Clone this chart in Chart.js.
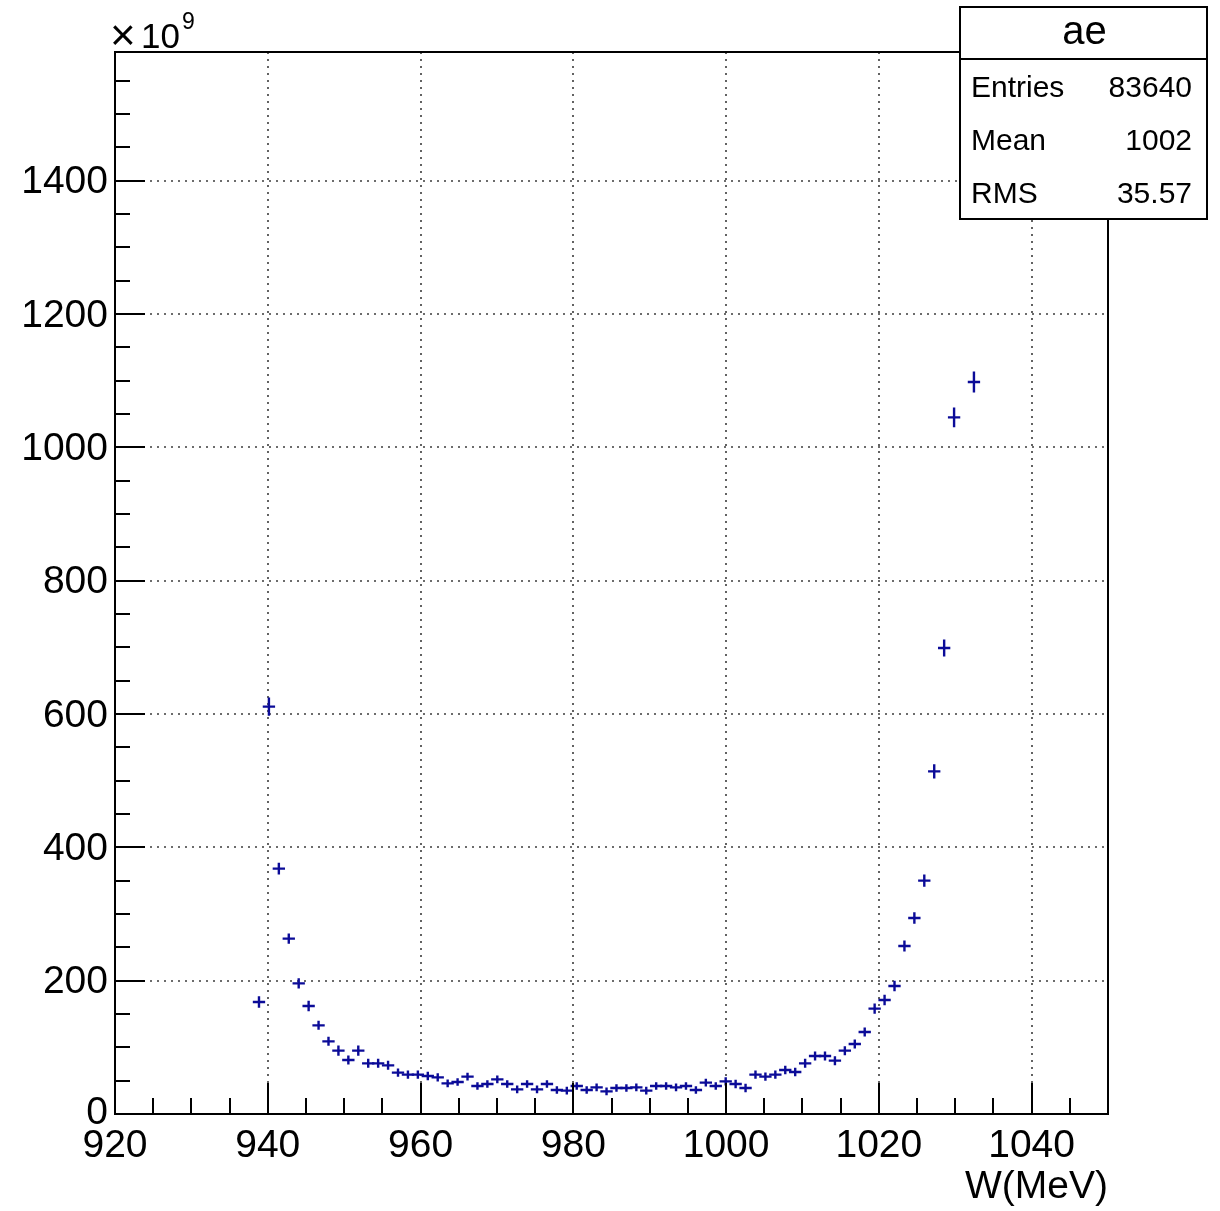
<!DOCTYPE html>
<html>
<head>
<meta charset="utf-8">
<script src="https://cdn.jsdelivr.net/npm/chart.js@4.4.1/dist/chart.umd.min.js"></script>
<style>
html,body{margin:0;padding:0;background:#fff;}
canvas{display:block;}
</style>
</head>
<body>
<canvas id="c" width="1220" height="1211"></canvas>
<script>
// ---- data ----
const binCenters = [938.85,940.15,941.45,942.75,944.05,945.35,946.65,947.95,949.25,950.55,
  951.85,953.15,954.45,955.75,957.05,958.35,959.65,960.95,962.25,963.55,
  964.85,966.15,967.45,968.75,970.05,971.35,972.65,973.95,975.25,976.55,
  977.85,979.15,980.45,981.75,983.05,984.35,985.65,986.95,988.25,989.55,
  990.85,992.15,993.45,994.75,996.05,997.35,998.65,999.95,1001.25,1002.55,
  1003.85,1005.15,1006.45,1007.75,1009.05,1010.35,1011.65,1012.95,1014.25,1015.55,
  1016.85,1018.15,1019.45,1020.75,1022.05,1023.35,1024.65,1025.95,1027.25,1028.55,
  1029.85,1032.45];
const values = [168,611,368,263,196,162,133,109,95,81,
  95,76,76,73,62,59,59,57,55,46,
  48,56,42,45,52,45,37,45,37,45,
  36,35,42,36,40,34,39,39,40,35,
  42,42,40,42,36,47,42,49,45,39,
  59,56,59,66,63,76,87,87,80,95,
  105,123,158,171,192,252,294,350,514,699,
  1045,1098];
const errors = [7,12,7,6,6,6,5,5,6,5,
  6,5,5,5,4.5,4.5,4.5,4.5,4.5,4,
  4,4,4,4,4,4,4,4,4,4,
  4,4,4,4,4,4,4,4,4,4,
  4,4,4,4,4,4,4,4.5,4.5,4.5,
  4.5,4.5,4.5,4.5,4.5,5,5,5,5,5,
  5,5,6,6,6,6.5,7,7.5,9,11,
  13,14];
const binHalfWidth = 0.65;
const xTickValues = [920,940,960,980,1000,1020,1040];
const xTickLabels = ['920','940','960','980','1000','1020','1040'];
const yTickValues = [0,200,400,600,800,1000,1200,1400];
const yTickLabels = ['0','200','400','600','800','1000','1200','1400'];
const xMinorStep = 5;
const yMinorStep = 50;
const xRange = [920,1050];
const yRange = [0,1593];
const statsTitle = 'ae';
const statsNames = ['Entries','Mean','RMS'];
const statsValues = ['83640','1002','35.57'];
const xTitle = 'W(MeV)';

const FONT = '"Liberation Sans", Arial, Helvetica, sans-serif';
const MARK = '#0b0b98';

const rootPlugin = {
  id: 'rootStyle',
  beforeDraw(chart){
    const ctx = chart.ctx;
    ctx.save(); ctx.fillStyle = '#fff'; ctx.fillRect(0,0,chart.width,chart.height); ctx.restore();
  },
  beforeDatasetsDraw(chart){
    const {ctx, chartArea:a, scales:{x,y}} = chart;
    ctx.save();
    ctx.strokeStyle = '#3c3c3c';
    ctx.lineWidth = 1.6;
    ctx.setLineDash([2,5]);
    xTickValues.forEach(v=>{
      const px = Math.round(x.getPixelForValue(v));
      if (px <= a.left+1 || px >= a.right-1) return;
      ctx.beginPath(); ctx.moveTo(px, a.top); ctx.lineTo(px, a.bottom); ctx.stroke();
    });
    yTickValues.forEach(v=>{
      const py = Math.round(y.getPixelForValue(v));
      if (py >= a.bottom-1 || py <= a.top+1) return;
      ctx.beginPath(); ctx.moveTo(a.left, py); ctx.lineTo(a.right, py); ctx.stroke();
    });
    ctx.restore();
  },
  afterDatasetsDraw(chart){
    const {ctx, scales:{x,y}} = chart;
    const pts = chart.data.datasets[0].data;
    ctx.save();
    ctx.strokeStyle = MARK;
    ctx.lineWidth = 2.4;
    ctx.lineCap = 'square';
    pts.forEach(p=>{
      const px = x.getPixelForValue(p.x);
      const py = y.getPixelForValue(p.y);
      const xl = x.getPixelForValue(p.x - binHalfWidth);
      const xr = x.getPixelForValue(p.x + binHalfWidth);
      const yt = y.getPixelForValue(p.y + p.err);
      const yb = y.getPixelForValue(p.y - p.err);
      ctx.beginPath();
      ctx.moveTo(xl, py); ctx.lineTo(xr, py);
      ctx.moveTo(px, yt); ctx.lineTo(px, yb);
      ctx.stroke();
    });
    ctx.restore();
  },
  afterDraw(chart){
    const {ctx, chartArea:a, scales:{x,y}} = chart;
    ctx.save();
    // ticks (inward)
    ctx.strokeStyle = '#000';
    ctx.lineWidth = 2;
    for (let v = xRange[0]; v <= xRange[1]; v += xMinorStep){
      const px = Math.round(x.getPixelForValue(v));
      const major = xTickValues.includes(v);
      const len = major ? 31 : 16;
      ctx.beginPath(); ctx.moveTo(px, a.bottom); ctx.lineTo(px, a.bottom - len); ctx.stroke();
    }
    for (let v = yRange[0]; v <= yRange[1]; v += yMinorStep){
      const py = Math.round(y.getPixelForValue(v));
      const major = yTickValues.includes(v);
      const len = major ? 30 : 15;
      ctx.beginPath(); ctx.moveTo(a.left, py); ctx.lineTo(a.left + len, py); ctx.stroke();
    }
    // frame
    ctx.lineWidth = 2;
    ctx.strokeRect(a.left, a.top, a.right - a.left, a.bottom - a.top);

    // tick labels
    ctx.fillStyle = '#000';
    ctx.font = '39px ' + FONT;
    ctx.textAlign = 'center';
    ctx.textBaseline = 'alphabetic';
    xTickValues.forEach((v,i)=>{
      ctx.fillText(xTickLabels[i], x.getPixelForValue(v), 1157);
    });
    ctx.textAlign = 'right';
    ctx.textBaseline = 'middle';
    yTickValues.forEach((v,i)=>{
      const py = y.getPixelForValue(v);
      ctx.fillText(yTickLabels[i], a.left - 7, py + (v === 0 ? -1 : 2));
    });
    // exponent
    ctx.textAlign = 'left';
    ctx.textBaseline = 'alphabetic';
    ctx.font = '44px ' + FONT;
    ctx.fillText('\u00d7', 110, 50);
    ctx.font = '35px ' + FONT;
    ctx.fillText('10', 141, 48);
    ctx.font = '23px ' + FONT;
    ctx.fillText('9', 182, 29);
    // axis title
    ctx.font = '39px ' + FONT;
    ctx.textAlign = 'right';
    ctx.fillText(xTitle, a.right, 1198);

    // stats box
    const bx = 960, by = 7, bw = 247, bh = 212, sep = 59;
    ctx.fillStyle = '#fff';
    ctx.fillRect(bx, by, bw, bh);
    ctx.strokeStyle = '#000';
    ctx.lineWidth = 2;
    ctx.strokeRect(bx, by, bw, bh);
    ctx.beginPath(); ctx.moveTo(bx, sep); ctx.lineTo(bx + bw, sep); ctx.stroke();
    ctx.fillStyle = '#000';
    ctx.font = '40px ' + FONT;
    ctx.textAlign = 'center';
    ctx.fillText(statsTitle, bx + bw/2 + 1, 44);
    ctx.font = '30px ' + FONT;
    const rowBase = [97, 150, 203];
    statsNames.forEach((n,i)=>{
      ctx.textAlign = 'left';
      ctx.fillText(n, 971, rowBase[i]);
      ctx.textAlign = 'right';
      ctx.fillText(statsValues[i], 1192, rowBase[i]);
    });
    ctx.restore();
  }
};

new Chart(document.getElementById('c'), {
  type: 'scatter',
  data: {
    datasets: [{
      label: statsTitle,
      data: binCenters.map((c,i)=>({x:c, y:values[i], err:errors[i]})),
      pointRadius: 0,
      showLine: false
    }]
  },
  options: {
    responsive: false,
    animation: false,
    layout: {padding: {left:115, top:52, right:112, bottom:97}},
    plugins: {legend:{display:false}, tooltip:{enabled:false}},
    scales: {
      x: {type:'linear', min:xRange[0], max:xRange[1], display:false},
      y: {type:'linear', min:yRange[0], max:yRange[1], display:false}
    }
  },
  plugins: [rootPlugin]
});
</script>
</body>
</html>
